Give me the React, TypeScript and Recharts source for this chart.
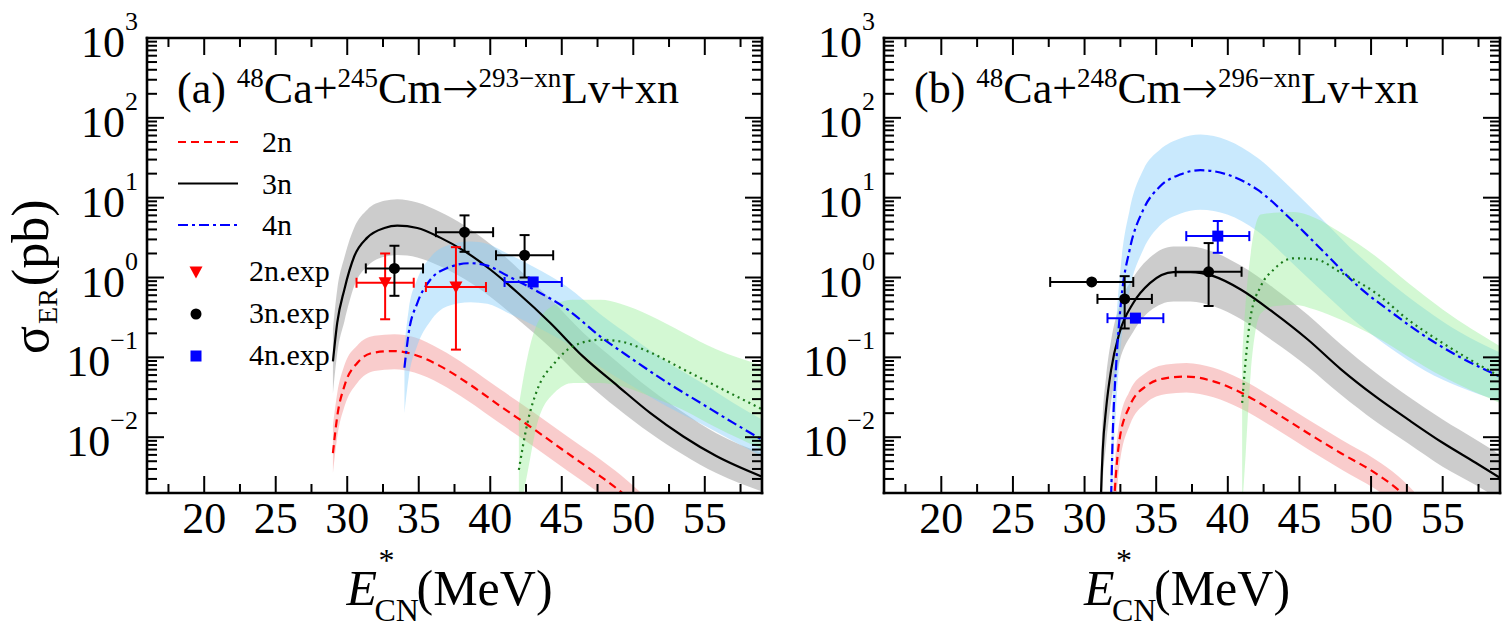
import React from 'react';
import { ComposedChart, Line, Area, Scatter, XAxis, YAxis, ErrorBar, Legend } from 'recharts';

const FONT = "'Liberation Serif', 'Times New Roman', Times, serif";
const ARROW_FONT = "'DejaVu Sans', 'Liberation Serif', serif";

// ---- axis ticks ----
const xMajorTicks = [20, 25, 30, 35, 40, 45, 50, 55];
const xMinorTicks = [17.5, 22.5, 27.5, 32.5, 37.5, 42.5, 47.5, 52.5, 57.5];
const yMajorTicks = [0.01, 0.1, 1, 10, 100, 1000];
const yMajorExponents = ['\u22122', '\u22121', '0', '1', '2', '3'];
const yMinorTicks = [
  0.002, 0.003, 0.004, 0.005, 0.006, 0.007, 0.008, 0.009,
  0.02, 0.03, 0.04, 0.05, 0.06, 0.07, 0.08, 0.09,
  0.2, 0.3, 0.4, 0.5, 0.6, 0.7, 0.8, 0.9,
  2, 3, 4, 5, 6, 7, 8, 9,
  20, 30, 40, 50, 60, 70, 80, 90,
  200, 300, 400, 500, 600, 700, 800, 900,
];
const xTicks = [...xMinorTicks, ...xMajorTicks].sort((a, b) => a - b);
const yTicks = [...yMinorTicks, ...yMajorTicks].sort((a, b) => a - b);

// ---- (a) 48Ca+245Cm : calculated cross sections (pb) ----
const eCN_2nA = [29.0, 29.3, 29.8, 30.7, 31.9, 33.3, 34.7, 36.5, 38.4, 40.7, 43.05, 45.4, 47.7, 49.1, 50.5];
const sig_2nA = [0.0063, 0.0182, 0.0437, 0.0851, 0.115, 0.12, 0.108, 0.0776, 0.0479, 0.0245, 0.0126, 0.0063, 0.00324, 0.00209, 0.00126];
const lo_2nA = [0.00355, 0.01, 0.024, 0.0479, 0.0676, 0.0708, 0.0646, 0.0468, 0.0288, 0.0148, 0.00759, 0.0038, 0.00195, 0.00126, 0.00079];
const hi_2nA = [0.0141, 0.0355, 0.0794, 0.141, 0.186, 0.195, 0.178, 0.126, 0.0776, 0.0398, 0.0204, 0.0102, 0.00525, 0.00339, 0.00204];

const eCN_3nA = [29.0, 29.3, 29.8, 30.5, 31.4, 32.6, 33.5, 34.9, 36.5, 38.2, 40.0, 41.9, 44.2, 46.5, 48.9, 51.2, 53.5, 55.8, 59.0];
const sig_3nA = [0.089, 0.27, 0.71, 1.86, 3.16, 4.17, 4.47, 4.17, 3.16, 2.14, 1.26, 0.65, 0.27, 0.102, 0.044, 0.02, 0.0102, 0.0058, 0.0032];
const lo_3nA = [0.0355, 0.112, 0.282, 0.794, 1.38, 1.82, 1.91, 1.78, 1.38, 0.955, 0.575, 0.302, 0.132, 0.0525, 0.0229, 0.0112, 0.00603, 0.00355, 0.00209];
const hi_3nA = [0.224, 0.708, 1.78, 4.27, 7.08, 9.12, 9.55, 8.71, 6.61, 4.47, 2.63, 1.32, 0.537, 0.204, 0.0871, 0.0398, 0.0204, 0.0112, 0.00631];

const eCN_4nA = [34.0, 34.3, 34.9, 35.8, 37.0, 38.6, 39.8, 41.2, 43.05, 45.4, 47.7, 50.0, 52.4, 54.7, 57.0, 59.0];
const sig_4nA = [0.0741, 0.204, 0.479, 0.933, 1.32, 1.51, 1.41, 1.05, 0.708, 0.398, 0.182, 0.0933, 0.0479, 0.0269, 0.0151, 0.00933];
const lo_4nA = [0.02, 0.0562, 0.141, 0.282, 0.437, 0.49, 0.468, 0.363, 0.251, 0.148, 0.0759, 0.0427, 0.024, 0.0148, 0.00891, 0.00575];
const hi_4nA = [0.141, 0.398, 0.955, 1.78, 2.51, 2.82, 2.63, 2.0, 1.35, 0.759, 0.347, 0.174, 0.0871, 0.049, 0.0269, 0.0166];

const eCN_5nA = [42.0, 42.6, 43.3, 44.5, 45.8, 47.7, 49.1, 51.2, 53.5, 55.8, 59.0];
const sig_5nA = [0.00389, 0.0151, 0.0398, 0.0851, 0.138, 0.166, 0.158, 0.115, 0.0708, 0.0437, 0.0224];
const lo_5nA = [0.001, 0.00355, 0.0151, 0.0363, 0.0479, 0.0479, 0.0437, 0.0324, 0.0219, 0.0132, 0.00708];
const hi_5nA = [0.0251, 0.1, 0.269, 0.457, 0.525, 0.525, 0.468, 0.331, 0.204, 0.126, 0.0794];

// ---- (a) measured cross sections ----
const exp2nA_E = [32.65, 37.6];
const exp2nA_sig = [0.86, 0.76];
const exp2nA_dE = [2.0, 2.1];
const exp2nA_lo = [0.3, 0.125];
const exp2nA_hi = [2.0, 2.4];

const exp3nA_E = [33.3, 38.2, 42.4];
const exp3nA_sig = [1.3, 3.7, 1.9];
const exp3nA_dE = [2.0, 2.0, 2.0];
const exp3nA_lo = [0.59, 2.1, 1.0];
const exp3nA_hi = [2.5, 6.0, 3.4];

const exp4nA_E = [43.0];
const exp4nA_sig = [0.88];
const exp4nA_dE = [2.0];
const exp4nA_lo = [0.88];
const exp4nA_hi = [0.88];

// ---- (b) 48Ca+248Cm : calculated cross sections (pb) ----
const eCN_2nB = [32.0, 32.1, 32.44, 33.15, 34.3, 35.7, 37.1, 39.0, 40.9, 43.2, 45.6, 47.9, 50.3, 51.9, 53.0];
const sig_2nB = [0.001, 0.002, 0.00933, 0.0245, 0.0437, 0.055, 0.0575, 0.0501, 0.0363, 0.0209, 0.0112, 0.0063, 0.00355, 0.00219, 0.00141];
const lo_2nB = [0.0004, 0.00079, 0.00447, 0.0141, 0.0269, 0.0347, 0.0363, 0.0316, 0.0229, 0.0132, 0.00708, 0.00398, 0.00224, 0.00138, 0.00089];
const hi_2nB = [0.0025, 0.00447, 0.0158, 0.038, 0.0646, 0.0813, 0.0851, 0.0741, 0.0537, 0.0309, 0.0166, 0.00933, 0.00525, 0.00324, 0.00209];

const eCN_3nB = [31.1, 31.15, 31.27, 31.5, 31.86, 32.44, 33.4, 34.56, 36.2, 37.4, 39.0, 40.9, 43.2, 45.6, 47.9, 50.3, 52.6, 55.0, 57.3, 59.0];
const sig_3nB = [0.001, 0.002, 0.00692, 0.0224, 0.0708, 0.204, 0.479, 0.851, 1.17, 1.17, 1.04, 0.708, 0.363, 0.166, 0.0708, 0.0324, 0.0166, 0.00851, 0.00479, 0.00309];
const lo_3nB = [0.0003, 0.00063, 0.00251, 0.00794, 0.0282, 0.0891, 0.209, 0.38, 0.501, 0.501, 0.437, 0.302, 0.158, 0.0759, 0.0339, 0.0158, 0.00832, 0.00427, 0.00251, 0.00166];
const hi_3nB = [0.0025, 0.005, 0.0178, 0.0562, 0.166, 0.447, 1.0, 1.78, 2.45, 2.45, 2.09, 1.41, 0.741, 0.339, 0.145, 0.0646, 0.0324, 0.0166, 0.00933, 0.00603];

const eCN_4nB = [31.8, 31.86, 31.97, 32.2, 32.56, 33.15, 34.1, 35.26, 36.67, 38.08, 39.96, 42.07, 44.4, 46.76, 49.1, 51.46, 53.8, 56.15, 59.0];
const sig_4nB = [0.001, 0.002, 0.0112, 0.0776, 0.525, 2.24, 7.08, 13.8, 19.5, 22.1, 19.5, 12.6, 5.37, 2.04, 0.776, 0.363, 0.182, 0.102, 0.0575];
const lo_4nB = [0.0002, 0.0005, 0.00316, 0.0224, 0.158, 0.708, 2.24, 4.47, 6.31, 7.08, 6.17, 3.8, 1.58, 0.631, 0.263, 0.126, 0.0676, 0.0427, 0.0282];
const hi_4nB = [0.003, 0.0063, 0.0355, 0.251, 1.58, 7.08, 22.4, 39.8, 55, 61.7, 52.5, 31.6, 13.2, 5.01, 1.91, 0.832, 0.398, 0.209, 0.115];

const eCN_5nB = [41.0, 41.25, 41.6, 42.3, 43.2, 44.6, 46.06, 47.9, 50.3, 52.6, 55.0, 59.0];
const sig_5nB = [0.0269, 0.0933, 0.331, 0.776, 1.26, 1.74, 1.7, 1.15, 0.646, 0.295, 0.151, 0.0575];
const lo_5nB = [0.00126, 0.0063, 0.0631, 0.355, 0.437, 0.457, 0.398, 0.295, 0.182, 0.102, 0.0575, 0.0269];
const hi_5nB = [0.1, 0.501, 2.0, 6.17, 6.46, 6.61, 5.62, 3.63, 1.86, 0.851, 0.398, 0.138];

// ---- (b) measured cross sections ----
const exp3nB_E = [30.5, 32.8, 38.66];
const exp3nB_sig = [0.88, 0.54, 1.18];
const exp3nB_dE = [2.9, 1.9, 2.3];
const exp3nB_lo = [0.88, 0.23, 0.44];
const exp3nB_hi = [0.88, 1.04, 2.7];

const exp4nB_E = [33.55, 39.3];
const exp4nB_sig = [0.31, 3.3];
const exp4nB_dE = [1.95, 2.2];
const exp4nB_lo = [0.31, 2.04];
const exp4nB_hi = [0.31, 5.1];

// ---- titles and legend labels ----
const titleA = [
  { t: '(a) ', sup: false }, { t: '48', sup: true }, { t: 'Ca+', sup: false }, { t: '245', sup: true },
  { t: 'Cm', sup: false }, { t: '\u2192', sup: false, arrow: true }, { t: '293\u2212xn', sup: true }, { t: 'Lv+xn', sup: false },
];
const titleB = [
  { t: '(b) ', sup: false }, { t: '48', sup: true }, { t: 'Ca+', sup: false }, { t: '248', sup: true },
  { t: 'Cm', sup: false }, { t: '\u2192', sup: false, arrow: true }, { t: '296\u2212xn', sup: true }, { t: 'Lv+xn', sup: false },
];
const legendLineLabels = ['2n', '3n', '4n'];
const legendExpLabels = ['2n.exp', '3n.exp', '4n.exp'];

// ---- styles ----
const STYLE: Record<string, { stroke: string; dash?: string; fill: string; fillOpacity: number }> = {
  n2: { stroke: '#ff0000', dash: '8 5', fill: '#f08080', fillOpacity: 0.4 },
  n3: { stroke: '#000000', dash: undefined, fill: '#999999', fillOpacity: 0.5 },
  n4: { stroke: '#0000ff', dash: '10 4 3 4', fill: '#87cefa', fillOpacity: 0.45 },
  n5: { stroke: '#1b7a1b', dash: '2 4', fill: '#90ee90', fillOpacity: 0.4 },
};
const EXP_STYLE: Record<string, { kind: string; color: string }> = {
  n2: { kind: 'tri', color: '#ff0000' },
  n3: { kind: 'circle', color: '#000000' },
  n4: { kind: 'square', color: '#0000ff' },
};

const toLine = (e: number[], s: number[]) => e.map((x, i) => ({ x, y: s[i] }));
const toBand = (e: number[], lo: number[], hi: number[]) => e.map((x, i) => ({ x, range: [lo[i], hi[i]] }));
const toPoints = (e: number[], s: number[], dE: number[], lo: number[], hi: number[]) =>
  e.map((x, i) => ({ x, y: s[i], ex: dE[i], ey: [s[i] - lo[i], hi[i] - s[i]] }));

const seriesA = [
  { key: 'n3', line: toLine(eCN_3nA, sig_3nA), band: toBand(eCN_3nA, lo_3nA, hi_3nA) },
  { key: 'n2', line: toLine(eCN_2nA, sig_2nA), band: toBand(eCN_2nA, lo_2nA, hi_2nA) },
  { key: 'n4', line: toLine(eCN_4nA, sig_4nA), band: toBand(eCN_4nA, lo_4nA, hi_4nA) },
  { key: 'n5', line: toLine(eCN_5nA, sig_5nA), band: toBand(eCN_5nA, lo_5nA, hi_5nA) },
];
const expA = [
  { key: 'n2', rows: toPoints(exp2nA_E, exp2nA_sig, exp2nA_dE, exp2nA_lo, exp2nA_hi) },
  { key: 'n3', rows: toPoints(exp3nA_E, exp3nA_sig, exp3nA_dE, exp3nA_lo, exp3nA_hi) },
  { key: 'n4', rows: toPoints(exp4nA_E, exp4nA_sig, exp4nA_dE, exp4nA_lo, exp4nA_hi) },
];
const seriesB = [
  { key: 'n3', line: toLine(eCN_3nB, sig_3nB), band: toBand(eCN_3nB, lo_3nB, hi_3nB) },
  { key: 'n2', line: toLine(eCN_2nB, sig_2nB), band: toBand(eCN_2nB, lo_2nB, hi_2nB) },
  { key: 'n4', line: toLine(eCN_4nB, sig_4nB), band: toBand(eCN_4nB, lo_4nB, hi_4nB) },
  { key: 'n5', line: toLine(eCN_5nB, sig_5nB), band: toBand(eCN_5nB, lo_5nB, hi_5nB) },
];
const expB = [
  { key: 'n3', rows: toPoints(exp3nB_E, exp3nB_sig, exp3nB_dE, exp3nB_lo, exp3nB_hi) },
  { key: 'n4', rows: toPoints(exp4nB_E, exp4nB_sig, exp4nB_dE, exp4nB_lo, exp4nB_hi) },
];

// ---- markers ----
function Marker({ kind, cx, cy, color }: { kind: string; cx: number; cy: number; color: string }) {
  if (kind === 'tri') {
    return <polygon points={`${cx - 6.5},${cy - 5.5} ${cx + 6.5},${cy - 5.5} ${cx},${cy + 6.5}`} fill={color} />;
  }
  if (kind === 'square') {
    return <rect x={cx - 5.5} y={cy - 5.5} width={11} height={11} fill={color} />;
  }
  return <circle cx={cx} cy={cy} r={5.5} fill={color} />;
}

// ---- tick renderers (inward ticks on all four sides) ----
function XTick(props: any) {
  const { x, y, payload, side } = props;
  const v = payload.value;
  const major = xMajorTicks.includes(v);
  const len = major ? 17 : 9;
  const dir = side === 'bottom' ? -1 : 1;
  return (
    <g>
      <line x1={x} y1={y} x2={x} y2={y + dir * len} stroke="#000" strokeWidth={2} />
      {major && side === 'bottom' && (
        <text x={x} y={y + 40} textAnchor="middle" fontSize={44} fontFamily={FONT} fill="#000">
          {v}
        </text>
      )}
    </g>
  );
}

function YTick(props: any) {
  const { x, y, payload, side } = props;
  const v = payload.value;
  const idx = yMajorTicks.indexOf(v);
  const major = idx >= 0;
  const len = major ? 17 : 10;
  const dir = side === 'left' ? 1 : -1;
  return (
    <g>
      <line x1={x} y1={y} x2={x + dir * len} y2={y} stroke="#000" strokeWidth={2} />
      {major && side === 'left' && (
        <text x={x - 9} y={y + 19} textAnchor="end" fontFamily={FONT} fill="#000">
          <tspan fontSize={44}>10</tspan>
          <tspan fontSize={26} dy={-27}>{yMajorExponents[idx]}</tspan>
        </text>
      )}
    </g>
  );
}

// ---- axis titles ----
function XTitle(props: any) {
  const vb = props.viewBox || { x: 0, y: 0, width: 0 };
  const cx = vb.x + vb.width / 2;
  const base = vb.y + 112;
  return (
    <g fontFamily={FONT} fill="#000">
      <text x={cx - 108} y={base} fontSize={50} fontStyle="italic">E</text>
      <text x={cx - 76} y={base - 34} fontSize={32}>*</text>
      <text x={cx - 80} y={base + 16} fontSize={32}>CN</text>
      <text x={cx - 38} y={base} fontSize={50}>(MeV)</text>
    </g>
  );
}

function YTitle(props: any) {
  const vb = props.viewBox || { x: 0, y: 0, height: 0 };
  const x = vb.x - 98;
  const y = vb.y + 316;
  return (
    <text transform={`translate(${x},${y}) rotate(-90)`} textAnchor="start" fontFamily={FONT} fill="#000">
      <tspan fontSize={52}>σ</tspan>
      <tspan fontSize={28} dx={2} dy={9}>ER</tspan>
      <tspan fontSize={52} dx={2} dy={-9}>(pb)</tspan>
    </text>
  );
}

function makeTitle(parts: { t: string; sup: boolean; arrow?: boolean }[]) {
  return (props: any) => {
    const vb = props.viewBox || { x: 0, y: 0 };
    let prevSup = false;
    return (
      <text x={vb.x + 30} y={vb.y + 66} fontFamily={FONT} fill="#000">
        {parts.map((p, i) => {
          const dy = p.sup === prevSup ? 0 : p.sup ? -16 : 16;
          prevSup = p.sup;
          return (
            <tspan key={i} dy={dy} fontSize={p.sup ? 27 : 44}
              fontFamily={p.arrow ? ARROW_FONT : undefined} fontWeight={p.arrow ? 200 : undefined}>
              {p.t}
            </tspan>
          );
        })}
      </text>
    );
  };
}

// ---- legend (panel a) ----
function LegendBox() {
  const lineKeys = ['n2', 'n3', 'n4'];
  const expKeys = ['n2', 'n3', 'n4'];
  return (
    <svg width={400} height={420} style={{ position: 'absolute', left: 0, top: 0, overflow: 'visible' }}>
      {lineKeys.map((k, i) => {
        const y = 142 + i * 41.5;
        return (
          <g key={k}>
            <line x1={178} x2={238} y1={y} y2={y} stroke={STYLE[k].stroke} strokeWidth={2.2} strokeDasharray={STYLE[k].dash} />
            <text x={262} y={y + 10} fontSize={30} fontFamily={FONT} fill="#000">{legendLineLabels[i]}</text>
          </g>
        );
      })}
      {expKeys.map((k, i) => {
        const y = 272 + i * 42;
        return (
          <g key={'e' + k}>
            <Marker kind={EXP_STYLE[k].kind} cx={196} cy={y} color={EXP_STYLE[k].color} />
            <text x={249} y={y + 9} fontSize={30} fontFamily={FONT} fill="#000">{legendExpLabels[i]}</text>
          </g>
        );
      })}
    </svg>
  );
}

const FRAME = { stroke: '#000', strokeWidth: 2.6, strokeLinecap: 'square' as const };

function Panel(props: {
  left: number;
  width: number;
  margin: { top: number; right: number; bottom: number; left: number };
  series: { key: string; line: any[]; band: any[] }[];
  exps: { key: string; rows: any[] }[];
  title: { t: string; sup: boolean; arrow?: boolean }[];
  withYTitle: boolean;
  withLegend: boolean;
}) {
  const { left, width, margin, series, exps, title, withYTitle, withLegend } = props;
  return (
    <div style={{ position: 'absolute', left, top: 0, width, height: 630 }}>
      <ComposedChart width={width} height={630} margin={margin}>
        <XAxis xAxisId="b" dataKey="x" type="number" domain={[16, 59]} allowDataOverflow ticks={xTicks}
          interval={0} height={1} tickSize={0} tickMargin={0} tickLine={false} axisLine={FRAME}
          tick={<XTick side="bottom" />} label={XTitle} />
        <XAxis xAxisId="t" orientation="top" dataKey="x" type="number" domain={[16, 59]} allowDataOverflow ticks={xTicks}
          interval={0} height={1} tickSize={0} tickMargin={0} tickLine={false} axisLine={FRAME}
          tick={<XTick side="top" />} label={makeTitle(title)} />
        <YAxis yAxisId="l" type="number" scale="log" domain={[0.002, 1000]} allowDataOverflow ticks={yTicks}
          interval={0} width={1} tickSize={0} tickMargin={0} tickLine={false} axisLine={FRAME}
          tick={<YTick side="left" />} label={withYTitle ? YTitle : undefined} />
        <YAxis yAxisId="r" orientation="right" type="number" scale="log" domain={[0.002, 1000]} allowDataOverflow ticks={yTicks}
          interval={0} width={1} tickSize={0} tickMargin={0} tickLine={false} axisLine={FRAME}
          tick={<YTick side="right" />} />
        {series.map((s) => (
          <Area key={'band-' + s.key} xAxisId="b" yAxisId="l" data={s.band} dataKey="range" type="monotone"
            stroke="none" fill={STYLE[s.key].fill} fillOpacity={STYLE[s.key].fillOpacity}
            dot={false} activeDot={false} legendType="none" isAnimationActive={false} />
        ))}
        {series.map((s) => (
          <Line key={'line-' + s.key} xAxisId="b" yAxisId="l" data={s.line} dataKey="y" type="monotone"
            stroke={STYLE[s.key].stroke} strokeWidth={2.2} strokeDasharray={STYLE[s.key].dash}
            dot={false} activeDot={false} legendType="none" isAnimationActive={false} />
        ))}
        {exps.map((ex) => (
          <Scatter key={'exp-' + ex.key} xAxisId="b" yAxisId="l" data={ex.rows} dataKey="y"
            fill={EXP_STYLE[ex.key].color} legendType="none" isAnimationActive={false}
            shape={(p: any) => <Marker kind={EXP_STYLE[ex.key].kind} cx={p.cx} cy={p.cy} color={EXP_STYLE[ex.key].color} />}>
            <ErrorBar dataKey="ex" direction="x" width={5} stroke={EXP_STYLE[ex.key].color} strokeWidth={2} />
            <ErrorBar dataKey="ey" direction="y" width={5} stroke={EXP_STYLE[ex.key].color} strokeWidth={2} />
          </Scatter>
        ))}
        {withLegend && (
          <Legend layout="vertical" align="center" verticalAlign="middle"
            wrapperStyle={{ left: 0, top: 0, width: 1, height: 1 }} content={() => <LegendBox />} />
        )}
      </ComposedChart>
    </div>
  );
}

export default function App() {
  return (
    <div style={{ position: 'absolute', left: 0, top: 0, width: 1510, height: 630, background: '#fff' }}>
      <Panel left={0} width={775} margin={{ top: 37, right: 12, bottom: 136, left: 146 }}
        series={seriesA} exps={expA} title={titleA} withYTitle withLegend />
      <Panel left={775} width={735} margin={{ top: 37, right: 9, bottom: 136, left: 108 }}
        series={seriesB} exps={expB} title={titleB} withYTitle={false} withLegend={false} />
    </div>
  );
}
